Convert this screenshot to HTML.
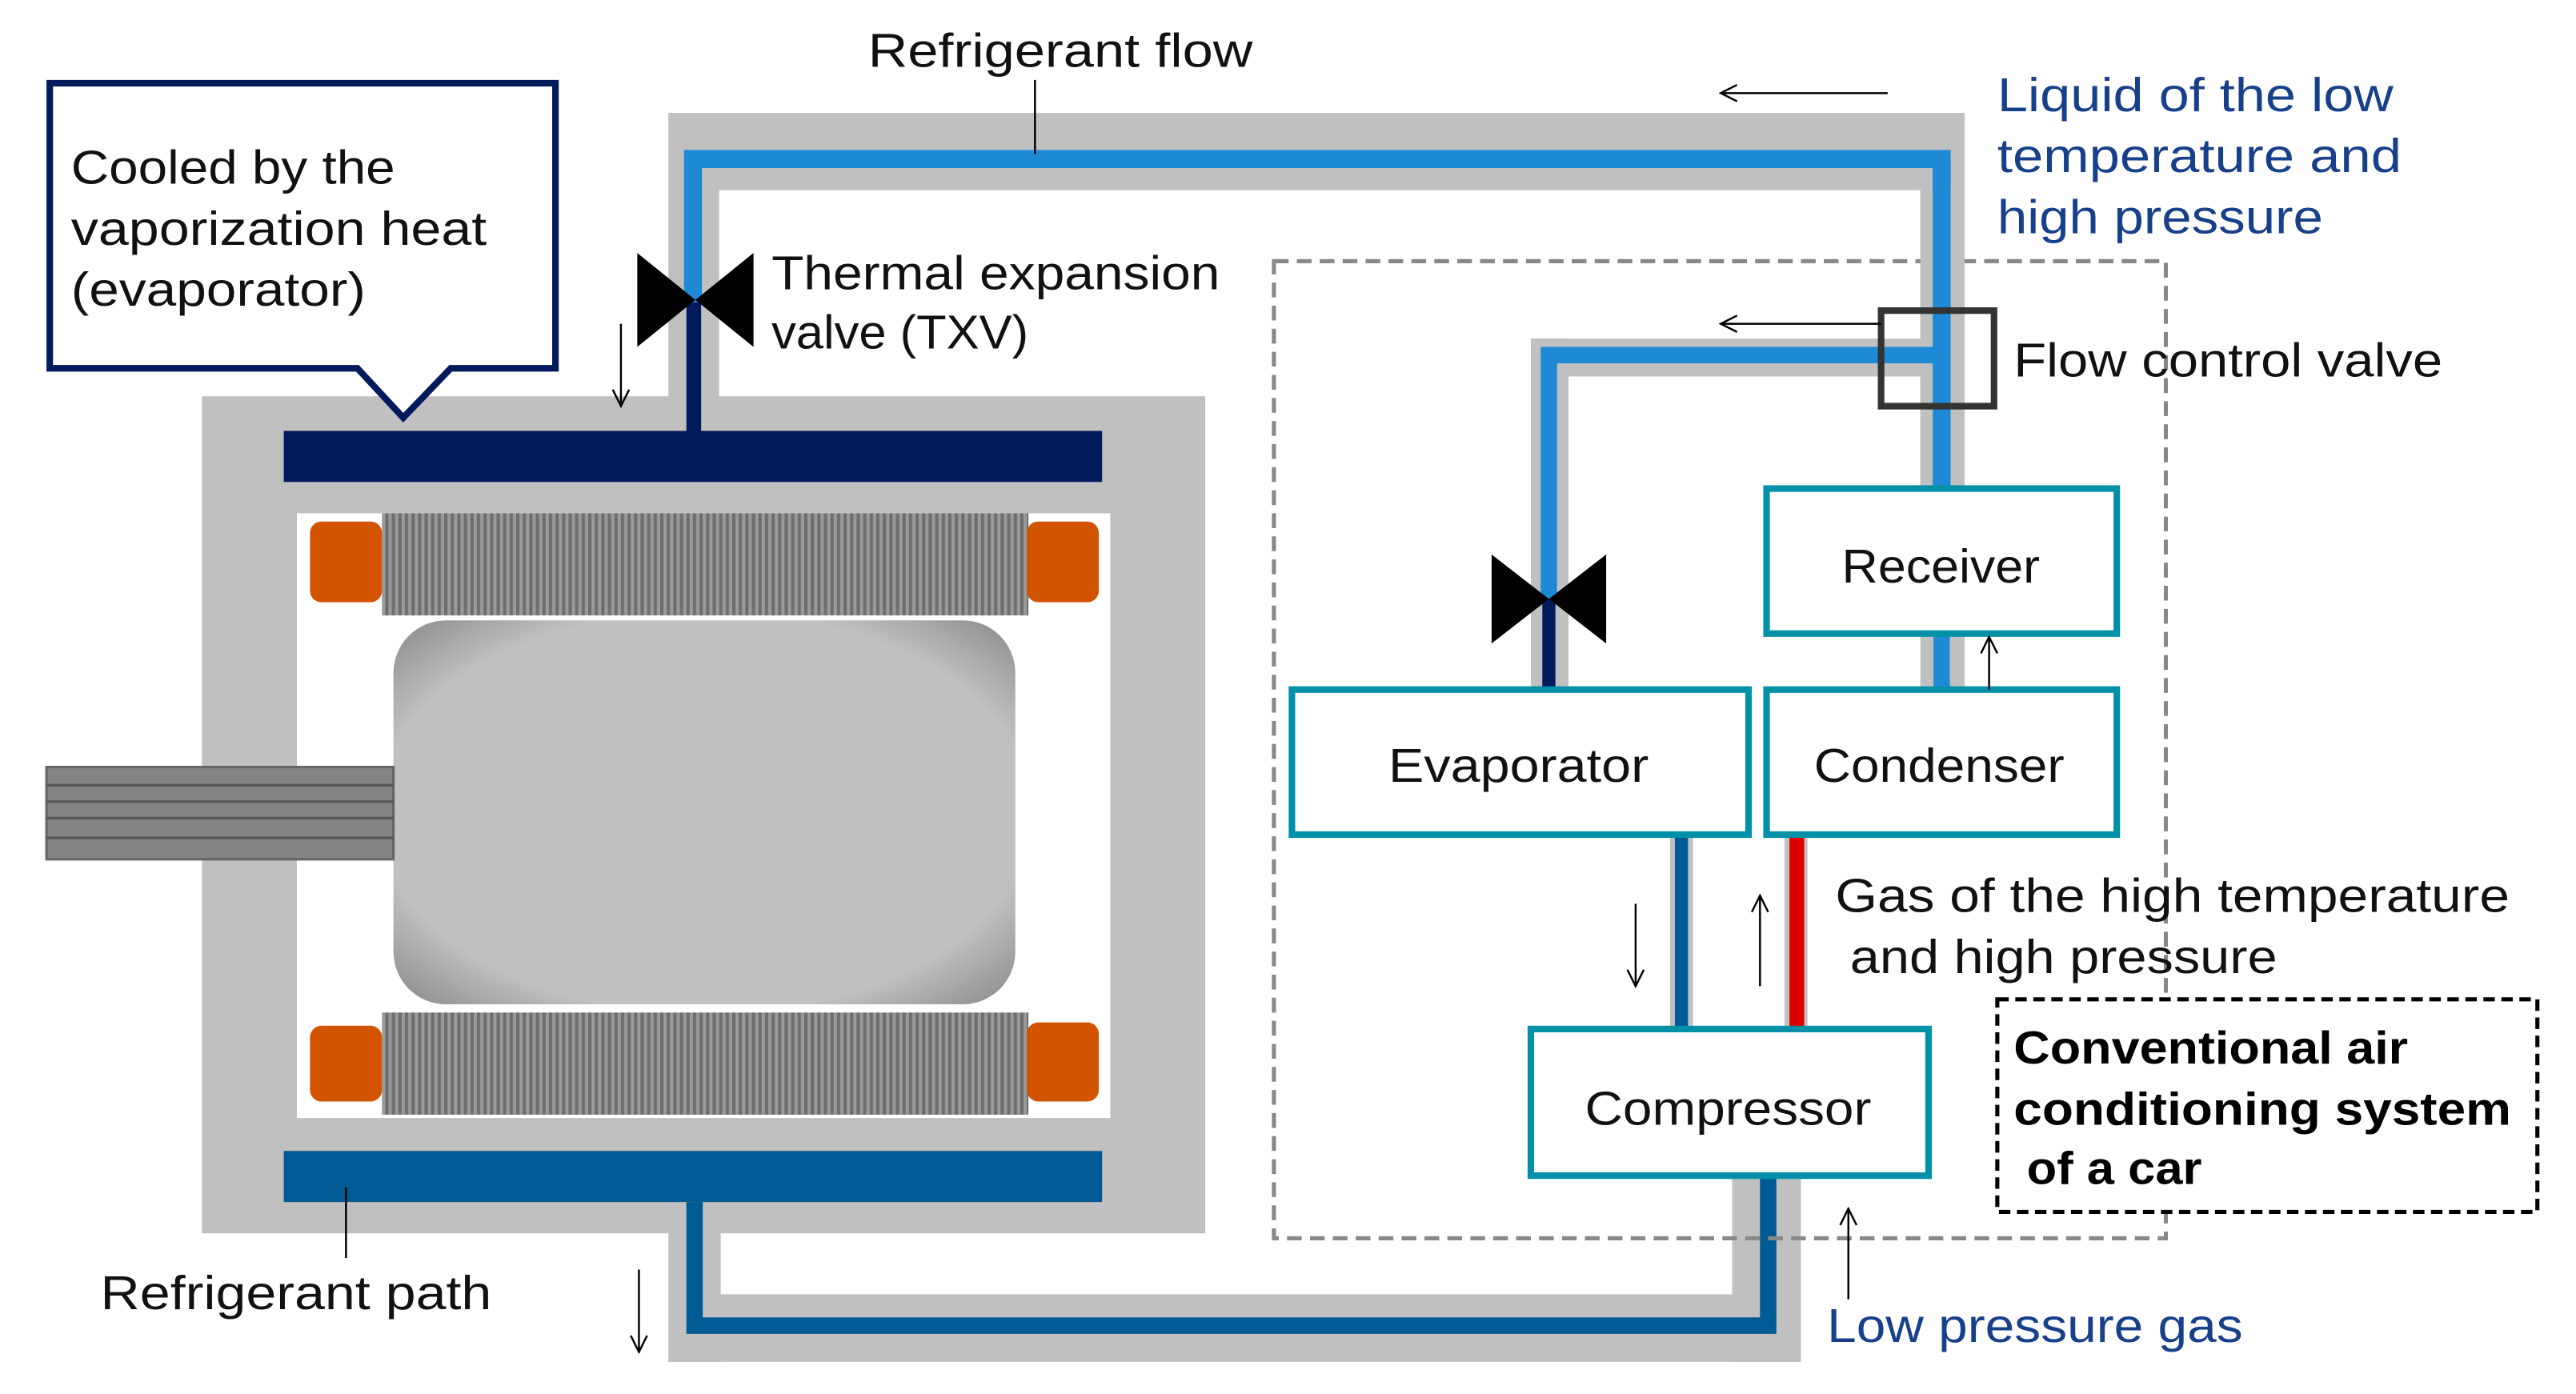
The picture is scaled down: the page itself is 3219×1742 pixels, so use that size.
<!DOCTYPE html>
<html><head><meta charset="utf-8"><style>html,body{margin:0;padding:0;background:#fff}svg{display:block}</style></head>
<body>
<svg width="3219" height="1742" viewBox="-3.4 1.5 1574 846" preserveAspectRatio="none" xmlns="http://www.w3.org/2000/svg" font-family="'Liberation Sans','DejaVu Sans',sans-serif">
<defs>
<pattern id="hatch" width="4" height="10" patternUnits="userSpaceOnUse"><rect width="4" height="10" fill="#9a9a9a"/><rect width="2" height="10" fill="#6e6e6e"/></pattern>
<radialGradient id="rot" cx="0.5" cy="0.5" r="0.7"><stop offset="0.75" stop-color="#c0c0c0"/><stop offset="1" stop-color="#8a8a8a"/></radialGradient>
<marker id="ah" viewBox="0 0 12 12" refX="11" refY="6" markerWidth="12" markerHeight="12" markerUnits="userSpaceOnUse" orient="auto"><path d="M1,1 L11,6 L1,11" fill="none" stroke="#000" stroke-width="1.2"/></marker>
</defs>
<rect x="405" y="70" width="792" height="47" fill="#c0c0c0"/>
<rect x="436" y="117" width="734" height="10" fill="#fff"/>
<rect x="405" y="70" width="31" height="175" fill="#c0c0c0"/>
<rect x="1170" y="70" width="27" height="228" fill="#c0c0c0"/>
<rect x="120" y="242" width="613" height="508" fill="#c0c0c0"/>
<rect x="178" y="313" width="497" height="367" fill="#fff"/>
<rect x="405" y="731" width="32" height="97" fill="#c0c0c0"/>
<rect x="405" y="787" width="692" height="41" fill="#c0c0c0"/>
<rect x="1055" y="715" width="42" height="113" fill="#c0c0c0"/>
<path d="M420,185 V98 H1183 V298" fill="none" stroke="#1e8ad6" stroke-width="11"/>
<rect x="416" y="185" width="9" height="80" fill="#001a5c"/>
<path d="M421,731 V806 H1077 V715" fill="none" stroke="#005a93" stroke-width="10"/>
<rect x="170" y="263" width="500" height="31" fill="#001a5c"/>
<rect x="170" y="700" width="500" height="31" fill="#005a93"/>
<rect x="230" y="313" width="395" height="62" fill="url(#hatch)"/>
<rect x="230" y="616" width="395" height="62" fill="url(#hatch)"/>
<rect x="186" y="318" width="44" height="49" rx="7" fill="#d35400"/>
<rect x="624" y="318" width="44" height="49" rx="7" fill="#d35400"/>
<rect x="186" y="624" width="44" height="46" rx="7" fill="#d35400"/>
<rect x="624" y="622" width="44" height="48" rx="7" fill="#d35400"/>
<rect x="237" y="378" width="380" height="233" rx="32" fill="url(#rot)"/>
<rect x="25" y="467" width="212" height="56" fill="#848484" stroke="#666" stroke-width="1.5"/>
<g stroke="#555" stroke-width="1.5"><line x1="25" y1="478" x2="237" y2="478"/><line x1="25" y1="488" x2="237" y2="488"/><line x1="25" y1="498" x2="237" y2="498"/><line x1="25" y1="510" x2="237" y2="510"/></g>
<rect x="775" y="160" width="545" height="593" fill="none" stroke="#888" stroke-width="2.5" stroke-dasharray="9,5"/>
<rect x="932" y="207" width="251" height="23" fill="#c0c0c0"/>
<rect x="932" y="207" width="23" height="213" fill="#c0c0c0"/>
<rect x="1170" y="117" width="27" height="181" fill="#c0c0c0"/>
<path d="M943,365 V217 H1183" fill="none" stroke="#1e8ad6" stroke-width="10"/>
<path d="M1183,98 V298" fill="none" stroke="#1e8ad6" stroke-width="11"/>
<rect x="939" y="365" width="8" height="55" fill="#001a5c"/>
<rect x="1170" y="386" width="27" height="34" fill="#c0c0c0"/>
<rect x="1178" y="386" width="10" height="34" fill="#1e8ad6"/>
<rect x="1017" y="508" width="14" height="118" fill="#c0c0c0"/>
<rect x="1020" y="508" width="8" height="118" fill="#005a93"/>
<rect x="1087" y="508" width="14" height="118" fill="#c0c0c0"/>
<rect x="1090" y="508" width="9" height="118" fill="#e00000"/>
<path d="M386,155 L457,212 L457,155 L386,212 Z" fill="#000"/>
<path d="M908,338 L978,392 L978,338 L908,392 Z" fill="#000"/>
<rect x="1146" y="190" width="69" height="58" fill="none" stroke="#333" stroke-width="4"/>
<g fill="#fff" stroke="#0090a8" stroke-width="4">
<rect x="1076" y="298" width="214" height="88"/>
<rect x="1076" y="420" width="214" height="88"/>
<rect x="786" y="420" width="279" height="88"/>
<rect x="932" y="626" width="243" height="89"/>
</g>
<path d="M27,52 H336 V225 H272 L243,255 L215,225 H27 Z" fill="#fff" stroke="#001a5c" stroke-width="4"/>
<g stroke="#000" stroke-width="1.2" fill="none" marker-end="url(#ah)">
<line x1="1150" y1="58" x2="1048" y2="58"/>
<line x1="1146" y1="198" x2="1048" y2="198"/>
<line x1="376" y1="198" x2="376" y2="248"/>
<line x1="387" y1="772" x2="387" y2="822"/>
<line x1="1212" y1="420" x2="1212" y2="388"/>
<line x1="996" y1="550" x2="996" y2="600"/>
<line x1="1072" y1="600" x2="1072" y2="545"/>
<line x1="1126" y1="790" x2="1126" y2="735"/>
</g>
<g stroke="#000" stroke-width="1.2"><line x1="629" y1="50" x2="629" y2="95"/><line x1="208" y1="722" x2="208" y2="765"/></g>
<rect x="1217" y="608" width="330" height="129" fill="#fff" stroke="#000" stroke-width="2.5" stroke-dasharray="7,4"/>
<g font-size="29" fill="#111">
<text x="527" y="42" textLength="235" lengthAdjust="spacingAndGlyphs">Refrigerant flow</text>
<text x="40" y="113" textLength="198" lengthAdjust="spacingAndGlyphs">Cooled by the</text>
<text x="40" y="150" textLength="254" lengthAdjust="spacingAndGlyphs">vaporization heat</text>
<text x="40" y="187" textLength="180" lengthAdjust="spacingAndGlyphs">(evaporator)</text>
<text x="468" y="177" textLength="274" lengthAdjust="spacingAndGlyphs">Thermal expansion</text>
<text x="468" y="213" textLength="157" lengthAdjust="spacingAndGlyphs">valve (TXV)</text>
<text x="1227" y="230" textLength="262" lengthAdjust="spacingAndGlyphs">Flow control valve</text>
<text x="1122" y="355" textLength="121" lengthAdjust="spacingAndGlyphs">Receiver</text>
<text x="845" y="476" textLength="159" lengthAdjust="spacingAndGlyphs">Evaporator</text>
<text x="1105" y="476" textLength="153" lengthAdjust="spacingAndGlyphs">Condenser</text>
<text x="965" y="684" textLength="175" lengthAdjust="spacingAndGlyphs">Compressor</text>
<text x="1118" y="555" textLength="412" lengthAdjust="spacingAndGlyphs">Gas of the high temperature</text>
<text x="1127" y="592" textLength="261" lengthAdjust="spacingAndGlyphs">and high pressure</text>
<text x="58" y="796" textLength="239" lengthAdjust="spacingAndGlyphs">Refrigerant path</text>
</g>
<g font-size="29" fill="#17408b">
<text x="1217" y="69" textLength="242" lengthAdjust="spacingAndGlyphs">Liquid of the low</text>
<text x="1217" y="106" textLength="247" lengthAdjust="spacingAndGlyphs">temperature and</text>
<text x="1217" y="143" textLength="199" lengthAdjust="spacingAndGlyphs">high pressure</text>
<text x="1113" y="816" textLength="254" lengthAdjust="spacingAndGlyphs">Low pressure gas</text>
</g>
<g font-size="28" font-weight="bold" fill="#000">
<text x="1227" y="647" textLength="241" lengthAdjust="spacingAndGlyphs">Conventional air</text>
<text x="1227" y="684" textLength="304" lengthAdjust="spacingAndGlyphs">conditioning system</text>
<text x="1235" y="720" textLength="107" lengthAdjust="spacingAndGlyphs">of a car</text>
</g>
</svg>
</body></html>
